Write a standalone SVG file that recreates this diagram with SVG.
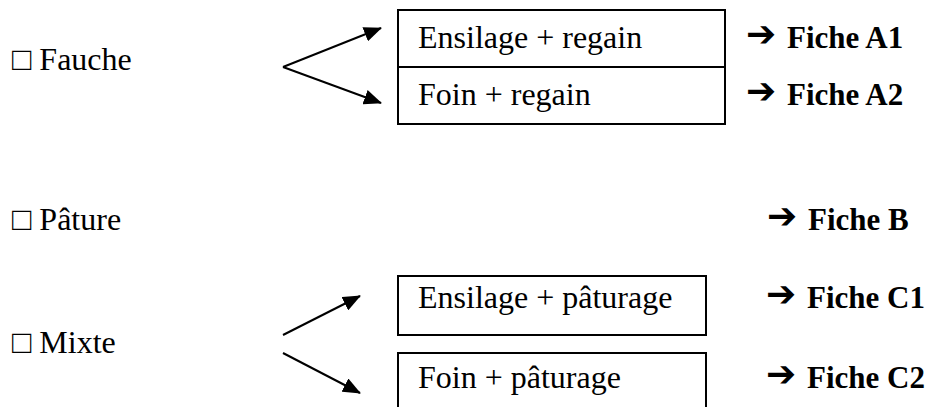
<svg xmlns="http://www.w3.org/2000/svg" width="930" height="407" viewBox="0 0 930 407">
<style>
.t{font-family:"Liberation Serif","Times New Roman",serif;font-size:32px;fill:#000}
.b{font-weight:bold;font-size:31px}
.ar{font-family:"DejaVu Sans",sans-serif;font-size:36px;font-weight:bold;fill:#000}
.box{fill:#fff;stroke:#000;stroke-width:2}
.ln{stroke:#000;stroke-width:2;fill:none;marker-end:url(#ah)}
</style>
<defs>
<marker id="ah" viewBox="0 0 18 15" refX="17" refY="7.5" markerWidth="18" markerHeight="15" markerUnits="userSpaceOnUse" orient="auto">
<path d="M0,0 L18,7.5 L0,15 z" fill="#000"/>
</marker>
</defs>
<rect width="930" height="407" fill="#fff"/>
<g id="fauche"><text class="t" x="12" y="70">□ Fauche</text></g>
<g id="paturee"><text class="t" x="12" y="230">□ Pâture</text></g>
<g id="mixte"><text class="t" x="12" y="353">□ Mixte</text></g>
<g id="box-a1"><rect class="box" x="398" y="10" width="327" height="57"/><text class="t" x="418" y="48">Ensilage + regain</text></g>
<g id="box-a2"><rect class="box" x="398" y="67" width="327" height="57"/><text class="t" x="418" y="105">Foin + regain</text></g>
<g id="box-c1"><rect class="box" x="398" y="276" width="308" height="59"/><text class="t" x="418" y="308">Ensilage + pâturage</text></g>
<g id="box-c2"><rect class="box" x="398" y="353" width="308" height="70"/><text class="t" x="418" y="388">Foin + pâturage</text></g>
<g id="fiche-a1"><text class="ar" x="746" y="46">➔</text><text class="t b" x="787" y="48">Fiche A1</text></g>
<g id="fiche-a2"><text class="ar" x="746" y="103">➔</text><text class="t b" x="787" y="105">Fiche A2</text></g>
<g id="fiche-b"><text class="ar" x="767" y="228">➔</text><text class="t b" x="808" y="230">Fiche B</text></g>
<g id="fiche-c1"><text class="ar" x="766" y="306">➔</text><text class="t b" x="807" y="308">Fiche C1</text></g>
<g id="fiche-c2"><text class="ar" x="766" y="386">➔</text><text class="t b" x="807" y="388">Fiche C2</text></g>
<g id="connectors">
<line class="ln" x1="283" y1="67" x2="381" y2="28"/>
<line class="ln" x1="283" y1="67" x2="381" y2="103"/>
<line class="ln" x1="283" y1="335" x2="360" y2="296"/>
<line class="ln" x1="283" y1="353" x2="360" y2="393"/>
</g>
</svg>
